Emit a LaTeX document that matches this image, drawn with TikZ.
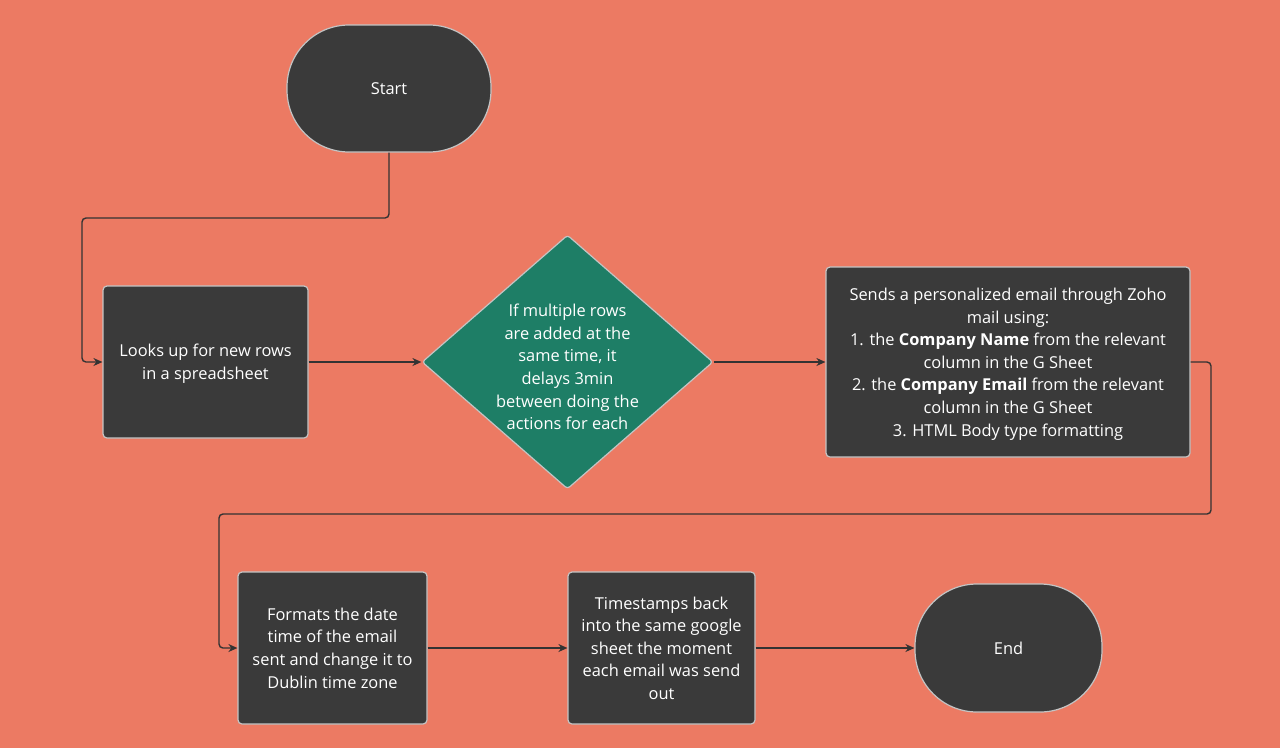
\documentclass[tikz,border=0pt]{standalone}
\usepackage{fontspec}
\setmainfont{Open Sans}
\usetikzlibrary{arrows.meta,shapes.geometric}
\definecolor{bg}{HTML}{EC7A63}
\definecolor{boxfill}{HTML}{3A3A3A}
\definecolor{boxline}{HTML}{C4C4C4}
\definecolor{dia}{HTML}{1E7E66}
\definecolor{conn}{HTML}{333333}
\tikzset{
  every node/.style={font=\fontsize{16.4}{22.6}\selectfont, text=white, align=center},
  procbox/.style={draw=boxline, line width=1.2pt, fill=boxfill, rounded corners=4pt, inner sep=0pt, text depth=0pt},
  terminal/.style={draw=boxline, line width=1.2pt, fill=boxfill, rounded corners=62pt, inner sep=0pt},
  decision/.style={diamond, draw=boxline, line width=1.2pt, fill=dia, inner sep=0pt, rounded corners=3pt},
  conn/.style={draw=conn, line width=1.4pt, rounded corners=4pt, -{Stealth[length=9pt,width=8pt]}},
}
\begin{document}
\begin{tikzpicture}[x=1pt,y=-1pt]
\fill[bg] (0,0) rectangle (1280,748);
\useasboundingbox (0,0) rectangle (1280,748);

\node[terminal, minimum width=204pt, minimum height=127pt] (start) at (389,88.5) {Start};
\node[procbox, minimum width=205pt, minimum height=152pt] (look) at (205.5,362) {Looks up for new rows\\in a spreadsheet};
\node[decision, minimum width=291pt, minimum height=254pt] (delay) at (567.5,362) {};
\node at (567.5,367) {If multiple rows\\are added at the\\same time, it\\delays 3min\\between doing the\\actions for each};
\node[procbox, minimum width=364pt, minimum height=190pt] (send) at (1008,362) {Sends a personalized email through Zoho\\mail using:\\1. the \textbf{Company Name} from the relevant\\column in the G Sheet\\2. the \textbf{Company Email} from the relevant\\column in the G Sheet\\3. HTML Body type formatting};
\node[procbox, minimum width=189pt, minimum height=152pt] (format) at (332.5,648) {Formats the date\\time of the email\\sent and change it to\\Dublin time zone};
\node[procbox, minimum width=187pt, minimum height=152pt] (stamp) at (661.5,648) {Timestamps back\\into the same google\\sheet the moment\\each email was send\\out};
\node[terminal, minimum width=187pt, minimum height=128pt] (end) at (1008.5,648) {End};

\coordinate (c1) at (389,218);
\coordinate (c2) at (82,218);
\coordinate (c3) at (82,362);
\draw[conn] (start.south) -- (c1) -- (c2) -- (c3) -- (look.west);
\draw[conn] (look.east) -- (delay.west);
\draw[conn] (delay.east) -- (send.west);
\coordinate (d1) at (1211,362);
\coordinate (d2) at (1211,514);
\coordinate (d3) at (219,514);
\coordinate (d4) at (219,648);
\draw[conn] (send.east) -- (d1) -- (d2) -- (d3) -- (d4) -- (format.west);
\draw[conn] (format.east) -- (stamp.west);
\draw[conn] (stamp.east) -- (end.west);
\end{tikzpicture}
\end{document}
